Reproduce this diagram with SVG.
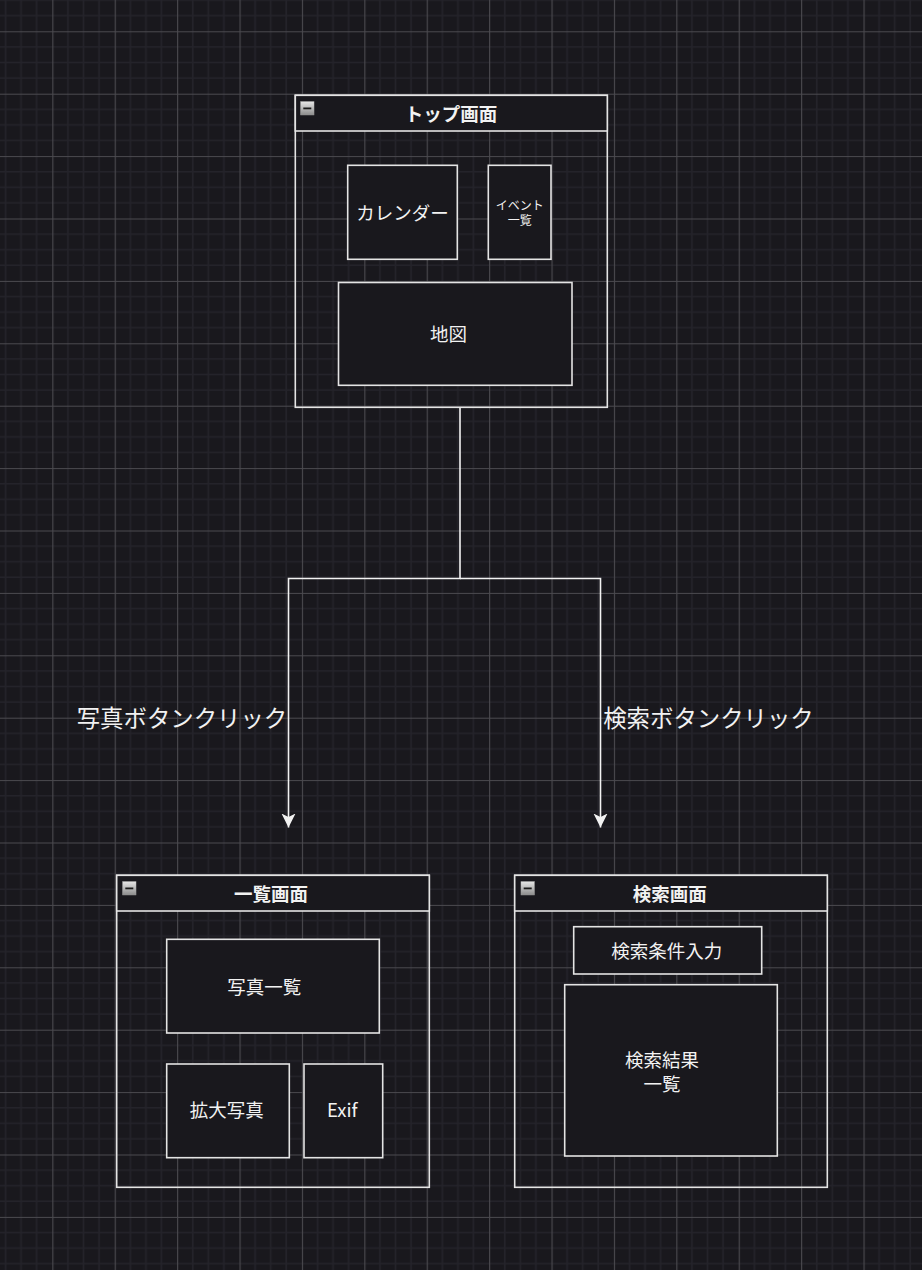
<svg xmlns="http://www.w3.org/2000/svg" width="922" height="1270" viewBox="0 0 922 1270">
<style>
.box{fill:#19181d;stroke:#e4e4e4;stroke-width:1.6}
.win{fill:none;stroke:#e4e4e4;stroke-width:1.6}
.hdr{fill:#19181d;stroke:#e4e4e4;stroke-width:1.6}
.t{font-family:"Noto Sans CJK JP","Noto Sans",sans-serif;fill:#f2f2f2;text-anchor:middle;dominant-baseline:central}
.m{font-size:18.5px}
.b{font-size:18.5px;font-weight:bold}
.s{font-size:12px}
.l{font-size:23.4px}
.e{fill:none;stroke:#f2f2f2;stroke-width:1.6}
</style>
<defs>
<pattern id="grid" patternUnits="userSpaceOnUse" x="-10.1" y="-31.1" width="62.4" height="62.4">
<rect width="62.4" height="62.4" fill="#19181d"/>
<path d="M15.6 0V62.4M31.2 0V62.4M46.8 0V62.4M0 15.6H62.4M0 31.2H62.4M0 46.8H62.4" stroke="#24232a" stroke-width="1.6"/>
<path d="M0.5 0V62.4M0 0.5H62.4" stroke="#4b4a4f" stroke-width="1.2"/>
</pattern>
<linearGradient id="ig" x1="0" y1="0" x2="0" y2="1">
<stop offset="0" stop-color="#e8e8e8"/>
<stop offset="1" stop-color="#8a8a8a"/>
</linearGradient>
<symbol id="icon" viewBox="0 0 14 14">
<rect x="0" y="0" width="14" height="14" fill="url(#ig)" stroke="#9a9a9a" stroke-width="0.8"/>
<rect x="3" y="6.2" width="8" height="1.8" fill="#1a1a1a"/>
</symbol>
<marker id="arr" markerUnits="userSpaceOnUse" markerWidth="16" markerHeight="16" viewBox="0 0 16 16" refX="14" refY="8" orient="auto">
<path d="M14 8L0 1L3.5 8L0 15Z" fill="#f2f2f2"/>
</marker>
</defs>
<rect width="922" height="1270" fill="url(#grid)"/>

<g id="connectors">
<path class="e" d="M460 407.5V578.5H288.5V827.5" marker-end="url(#arr)"/>
<path class="e" d="M460 578.5H600.5V827.5" marker-end="url(#arr)"/>
<text class="t l" x="182" y="717">写真ボタンクリック</text>
<text class="t l" x="708.5" y="717">検索ボタンクリック</text>
</g>

<g id="top-screen">
<rect class="win" x="295.3" y="95.3" width="312" height="312"/>
<rect class="hdr" x="295.3" y="95.3" width="312" height="35.7"/>
<use href="#icon" x="300.3" y="101.3" width="14" height="14"/>
<text class="t b" x="451" y="113">トップ画面</text>
</g>
<g id="calendar">
<rect class="box" x="347.7" y="165.3" width="109.6" height="94"/>
<text class="t m" x="402.5" y="212">カレンダー</text>
</g>
<g id="event-list">
<rect class="box" x="488.3" y="165.3" width="62.7" height="94"/>
<text class="t s" x="519.7" y="204.3">イベント<tspan x="519.7" dy="14.7">一覧</tspan></text>
</g>
<g id="map">
<rect class="box" x="338.5" y="282.5" width="233.5" height="102.8"/>
<text class="t m" x="448.5" y="333">地図</text>
</g>

<g id="list-screen">
<rect class="win" x="116.7" y="875.3" width="312.6" height="312"/>
<rect class="hdr" x="116.7" y="875.3" width="312.6" height="35.7"/>
<use href="#icon" x="122.3" y="881.3" width="14" height="14"/>
<text class="t b" x="271" y="893.3">一覧画面</text>
</g>
<g id="photo-list">
<rect class="box" x="166.7" y="939.3" width="212.6" height="93.7"/>
<text class="t m" x="264.3" y="986">写真一覧</text>
</g>
<g id="zoom-photo">
<rect class="box" x="166.7" y="1064" width="122.6" height="93.7"/>
<text class="t m" x="226.7" y="1108.5">拡大写真</text>
</g>
<g id="exif">
<rect class="box" x="304" y="1064" width="78.7" height="93.7"/>
<text class="t m" x="342.3" y="1108.5">Exif</text>
</g>

<g id="search-screen">
<rect class="win" x="514.7" y="875.3" width="312.6" height="312"/>
<rect class="hdr" x="514.7" y="875.3" width="312.6" height="35.7"/>
<use href="#icon" x="520.7" y="881.3" width="14" height="14"/>
<text class="t b" x="669.7" y="893.3">検索画面</text>
</g>
<g id="search-input">
<rect class="box" x="573.7" y="926.7" width="188" height="47.3"/>
<text class="t m" x="666.7" y="950">検索条件入力</text>
</g>
<g id="search-results">
<rect class="box" x="564.7" y="984.7" width="212.6" height="171.3"/>
<text class="t m" x="662" y="1058.5">検索結果<tspan x="662" dy="24">一覧</tspan></text>
</g>
</svg>
